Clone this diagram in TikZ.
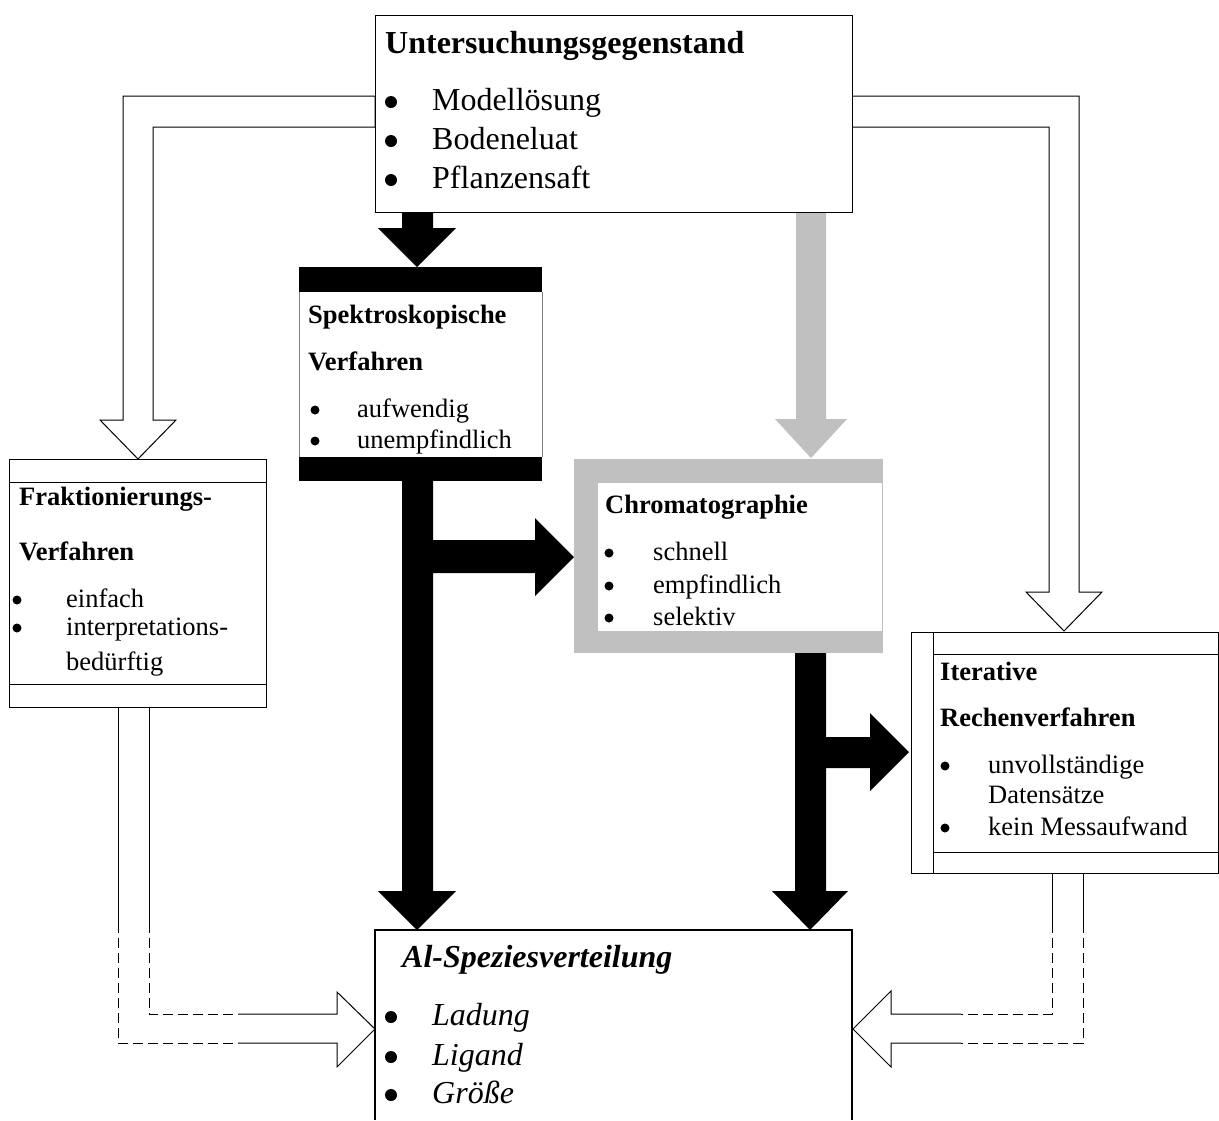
\documentclass[tikz,border=0pt]{standalone}
\usepackage{fontspec}
\setmainfont{Liberation Serif}
\definecolor{sil}{RGB}{192,192,192}
\begin{document}
\begin{tikzpicture}[x=1pt,y=-1pt,
  txt/.style={inner sep=0pt, anchor=base west},
  big/.style={txt, font=\fontsize{32}{38}\selectfont},
  bigb/.style={txt, font=\fontsize{32}{38}\selectfont\bfseries},
  bigi/.style={txt, font=\fontsize{32}{38}\selectfont\itshape},
  bigbi/.style={txt, font=\fontsize{32}{38}\selectfont\bfseries\itshape},
  sm/.style={txt, font=\fontsize{26.5}{32}\selectfont},
  smb/.style={txt, font=\fontsize{26.5}{32}\selectfont\bfseries},
  bulbig/.style={circle, fill=black, inner sep=0pt, minimum size=12pt},
  bulsm/.style={circle, fill=black, inner sep=0pt, minimum size=9pt},
  hollow/.style={draw=black, fill=white, line width=1pt, line join=miter},
  hline/.style={draw=black, line width=1pt},
  dline/.style={draw=black, line width=1pt, dash pattern=on 10pt off 5pt},
  boxline/.style={draw=black, line width=1.2pt},
]
\useasboundingbox (0,0) rectangle (1219,1120);
\fill[white] (0,0) rectangle (1219,1120);

% ---------- hollow arrows from the top box ----------
\path[hollow] (375,96) -- (123,96) -- (123,420) -- (100,420) -- (138,459)
  -- (176,420) -- (153,420) -- (153,127) -- (375,127) -- cycle;
\path[hollow] (852,96) -- (1079,96) -- (1079,592) -- (1102,592) -- (1064,631)
  -- (1026,592) -- (1049,592) -- (1049,127) -- (852,127) -- cycle;

% ---------- boxes ----------
% top box
\node[boxline, fill=white, minimum width=477pt, minimum height=197pt,
  anchor=north west, inner sep=0pt] (top) at (375,15) {};
\node[bigb] (topH) at (385,53) {Untersuchungsgegenstand};
\node[bulbig] (tb1) at (391,102) {};
\node[bulbig] (tb2) at (391,141) {};
\node[bulbig] (tb3) at (391,180) {};
\node[big] (ti1) at (432,110) {Modellösung};
\node[big] (ti2) at (432,149) {Bodeneluat};
\node[big] (ti3) at (432,188) {Pflanzensaft};

% spectroscopy box
\fill[black] (299,267) rectangle (542,481);
\fill[white] (299,292) rectangle (542,457);
\draw[gray, line width=1pt] (299,292) -- (299,457);
\draw[gray, line width=1pt] (542,292) -- (542,457);
\node[smb] (spH1) at (308,323) {Spektroskopische};
\node[smb] (spH2) at (308,370) {Verfahren};
\node[bulsm] (sb1) at (315,410) {};
\node[bulsm] (sb2) at (315,441) {};
\node[sm] (si1) at (357,417) {aufwendig};
\node[sm] (si2) at (357,448) {unempfindlich};

% chromatography box
\fill[sil] (574,459) rectangle (883,653);
\fill[white] (598,483) rectangle (882,631);
\node[smb] (chH) at (605,513) {Chromatographie};
\node[bulsm] (cb1) at (609,553) {};
\node[bulsm] (cb2) at (609,586) {};
\node[bulsm] (cb3) at (609,618) {};
\node[sm] (ci1) at (653,560) {schnell};
\node[sm] (ci2) at (653,593) {empfindlich};
\node[sm] (ci3) at (653,625) {selektiv};

% fractionation box
\node[boxline, fill=white, minimum width=257pt, minimum height=248pt,
  anchor=north west, inner sep=0pt] (frak) at (9,459) {};
\draw[hline] (9,482) -- (266,482);
\draw[hline] (9,684) -- (266,684);
\node[smb] (frH1) at (19,505) {Fraktionierungs-};
\node[smb] (frH2) at (19,560) {Verfahren};
\node[bulsm] (fb1) at (17,600) {};
\node[bulsm] (fb2) at (17,628) {};
\node[sm] (fi1) at (66,607) {einfach};
\node[sm] (fi2) at (66,635) {interpretations-};
\node[sm] (fi3) at (66,670) {bedürftig};

% iterative box
\node[boxline, fill=white, minimum width=307pt, minimum height=241pt,
  anchor=north west, inner sep=0pt] (iter) at (911,632) {};
\draw[hline] (933,632) -- (933,873);
\draw[hline] (933,654) -- (1218,654);
\draw[hline] (933,852) -- (1218,852);
\node[smb] (itH1) at (940,680) {Iterative};
\node[smb] (itH2) at (940,726) {Rechenverfahren};
\node[bulsm] (ib1) at (945,766) {};
\node[bulsm] (ib2) at (945,828) {};
\node[sm] (ii1) at (988,773) {unvollständige};
\node[sm] (ii2) at (988,803) {Datensätze};
\node[sm] (ii3) at (988,835) {kein Messaufwand};

% result box (open at the bottom edge of the picture)
\draw[boxline] (375,1120) -- (375,930) -- (852,930) -- (852,1120);
\node[bigbi] (reH) at (402,967) {Al-Speziesverteilung};
\node[bulbig] (rb1) at (391,1017) {};
\node[bulbig] (rb2) at (391,1057) {};
\node[bulbig] (rb3) at (391,1095) {};
\node[bigi] (ri1) at (432,1025) {Ladung};
\node[bigi] (ri2) at (432,1065) {Ligand};
\node[bigi] (ri3) at (432,1103) {Größe};

% ---------- solid black arrows ----------
\fill[black] (402,213) -- (402,228) -- (378,228) -- (417,267) -- (456,228)
  -- (433,228) -- (433,213) -- cycle;
\fill[black] (402,481) -- (402,891) -- (378,891) -- (417,930) -- (456,891)
  -- (433,891) -- (433,573) -- (535,573) -- (535,596) -- (574,557)
  -- (535,518) -- (535,540) -- (433,540) -- (433,481) -- cycle;
\fill[black] (795,653) -- (795,891) -- (772,891) -- (810,930) -- (848,891)
  -- (826,891) -- (826,768) -- (870,768) -- (870,791) -- (909,752)
  -- (870,713) -- (870,737) -- (826,737) -- (826,653) -- cycle;

% ---------- grey arrow ----------
\fill[sil] (796,213) -- (796,419) -- (775,419) -- (811,458) -- (847,419)
  -- (826,419) -- (826,213) -- cycle;

% ---------- lower hollow arrows (partly dashed) ----------
\draw[hline] (118,707) -- (118,923);
\draw[hline] (149,707) -- (149,923);
\draw[dline] (118,923) -- (118,1043) -- (238,1043);
\draw[dline] (149,923) -- (149,1014) -- (238,1014);
\draw[hline, line join=miter] (238,1014) -- (337,1014) -- (337,992) -- (375,1029)
  -- (337,1067) -- (337,1043) -- (238,1043);

\draw[hline] (1052,873) -- (1052,923);
\draw[hline] (1083,873) -- (1083,923);
\draw[dline] (1052,923) -- (1052,1014) -- (961,1014);
\draw[dline] (1083,923) -- (1083,1043) -- (961,1043);
\draw[hline, line join=miter] (961,1014) -- (891,1014) -- (891,991) -- (853,1029)
  -- (891,1067) -- (891,1043) -- (961,1043);
\end{tikzpicture}
\end{document}
